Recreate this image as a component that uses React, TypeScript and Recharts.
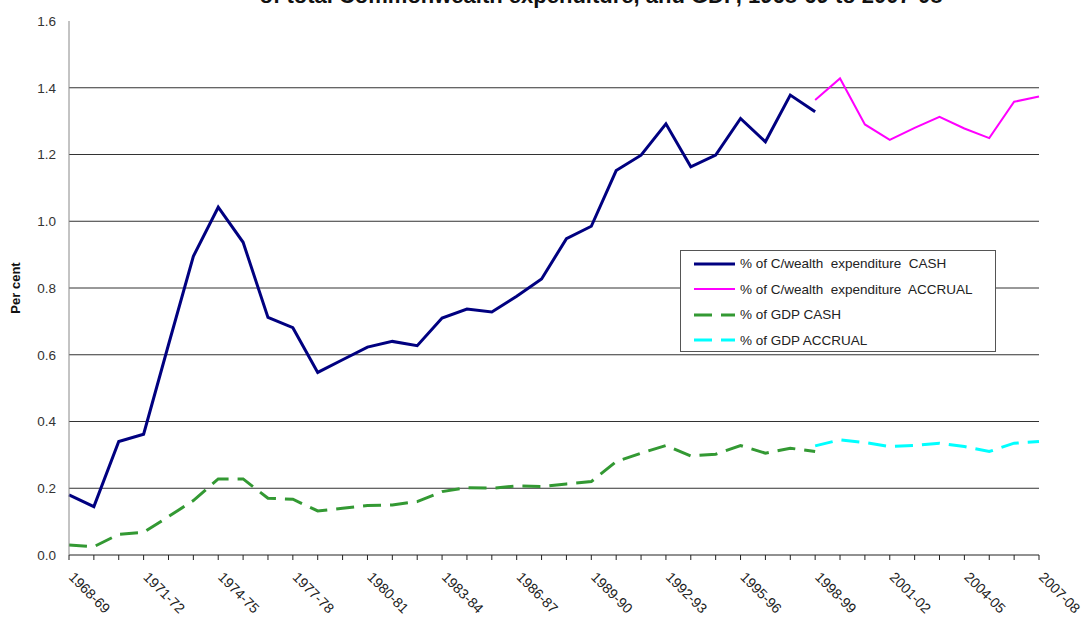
import { LineChart, Line, XAxis, YAxis, CartesianGrid } from 'recharts';

// financial years, one per point
const years = [
  '1968-69', '1969-70', '1970-71', '1971-72', '1972-73', '1973-74', '1974-75', '1975-76',
  '1976-77', '1977-78', '1978-79', '1979-80', '1980-81', '1981-82', '1982-83', '1983-84',
  '1984-85', '1985-86', '1986-87', '1987-88', '1988-89', '1989-90', '1990-91', '1991-92',
  '1992-93', '1993-94', '1994-95', '1995-96', '1996-97', '1997-98', '1998-99', '1999-00',
  '2000-01', '2001-02', '2002-03', '2003-04', '2004-05', '2005-06', '2006-07', '2007-08',
];

const expCash = [
  0.18, 0.145, 0.34, 0.362, 0.63, 0.895, 1.042, 0.937, 0.712, 0.681, 0.547, 0.585, 0.623,
  0.64, 0.627, 0.71, 0.737, 0.728, 0.775, 0.827, 0.948, 0.985, 1.152, 1.198, 1.292, 1.163,
  1.198, 1.308, 1.238, 1.378, 1.328,
];
const expAccrual = [1.363, 1.428, 1.29, 1.244, 1.28, 1.313, 1.278, 1.249, 1.358, 1.374];

const gdpCash = [
  0.03, 0.025, 0.062, 0.068, 0.115, 0.163, 0.228, 0.228, 0.17, 0.167, 0.132, 0.14, 0.148,
  0.15, 0.16, 0.19, 0.202, 0.2, 0.207, 0.205, 0.213, 0.22, 0.28, 0.305, 0.328, 0.297, 0.302,
  0.328, 0.305, 0.32, 0.31,
];
const gdpAccrual = [0.327, 0.345, 0.337, 0.325, 0.328, 0.335, 0.325, 0.31, 0.335, 0.34];

const accrualStart = 30; // accrual series begin in 1998-99

const yTicks = [0, 0.2, 0.4, 0.6, 0.8, 1.0, 1.2, 1.4, 1.6];

const data = years.map((year, i) => ({
  year,
  expCash: i < expCash.length ? expCash[i] : null,
  expAccrual: i >= accrualStart ? expAccrual[i - accrualStart] : null,
  gdpCash: i < gdpCash.length ? gdpCash[i] : null,
  gdpAccrual: i >= accrualStart ? gdpAccrual[i - accrualStart] : null,
}));

const series = [
  { key: 'expCash', name: '% of C/wealth  expenditure  CASH', color: '#000080', width: 3, dash: undefined },
  { key: 'expAccrual', name: '% of C/wealth  expenditure  ACCRUAL', color: '#ff00ff', width: 2, dash: undefined },
  { key: 'gdpCash', name: '% of GDP CASH', color: '#339933', width: 3, dash: '18 9' },
  { key: 'gdpAccrual', name: '% of GDP ACCRUAL', color: '#00ffff', width: 3, dash: '18 9' },
];

const font = 'Arial, "Liberation Sans", sans-serif';

function YearTick(props: any) {
  const { x, y, index, payload } = props;
  if (index % 3 !== 0) return null;
  return (
    <g transform={`translate(${x - 1},${y + 16}) rotate(45)`}>
      <text x={0} y={0} textAnchor="start" fill="#222" fontSize={14} fontFamily={font}>
        {payload.value}
      </text>
    </g>
  );
}

function LegendBox() {
  return (
    <div style={{
      position: 'absolute', left: 680, top: 250, width: 314, height: 100,
      border: '1px solid #555', background: '#fff', fontFamily: font,
    }}>
      {series.map((s) => (
        <div key={s.key} style={{ height: 25.5, display: 'flex', alignItems: 'center' }}>
          <svg width={59} height={10} style={{ flex: 'none' }}>
            <line x1={13} x2={54} y1={5} y2={5} stroke={s.color} strokeWidth={s.width} strokeDasharray={s.dash} />
          </svg>
          <span style={{ fontSize: 13.5, color: '#222', whiteSpace: 'pre' }}>{s.name}</span>
        </div>
      ))}
    </div>
  );
}

export default function App() {
  return (
    <div style={{ position: 'absolute', left: 0, top: 0, width: 1083, height: 619, overflow: 'hidden', background: '#fff' }}>
      <style>{'body{margin:0}'}</style>
      <div style={{
        position: 'absolute', left: 0, width: 1202, top: -15, textAlign: 'center',
        fontFamily: font, fontWeight: 'bold', fontSize: 22, lineHeight: '22px', color: '#111',
      }}>
        of total Commonwealth expenditure, and GDP, 1968-69 to 2007-08
      </div>
      <LineChart width={1083} height={619} data={data} margin={{ top: 21, right: 44, left: 0, bottom: 0 }}>
        <CartesianGrid vertical={false} stroke="#333" horizontalValues={[0.2, 0.4, 0.6, 0.8, 1.0, 1.2, 1.4]} />
        <XAxis dataKey="year" interval={0} height={64} tick={<YearTick />} tickSize={5}
          axisLine={{ stroke: '#222' }} tickLine={{ stroke: '#222' }} />
        <XAxis xAxisId="top" orientation="top" dataKey="year" height={0} tick={false} tickLine={false}
          axisLine={{ stroke: '#888' }} />
        <YAxis domain={[0, 1.6]} ticks={yTicks} width={69} tickLine={false} tickMargin={7}
          axisLine={{ stroke: '#888' }} tickFormatter={(v: number) => v.toFixed(1)}
          tick={{ fill: '#333', fontSize: 13.5, fontFamily: font }}
          label={{
            content: () => (
              <text x={20} y={288} transform="rotate(-90 20 288)" textAnchor="middle"
                fontFamily={font} fontWeight="bold" fontSize={13} fill="#111">Per cent</text>
            ),
          }} />
        <YAxis yAxisId="right" orientation="right" width={0} tick={false} tickLine={false}
          axisLine={{ stroke: '#888' }} />
        {series.map((s) => (
          <Line key={s.key} dataKey={s.key} name={s.name} stroke={s.color} strokeWidth={s.width}
            strokeDasharray={s.dash} dot={false} isAnimationActive={false} />
        ))}
      </LineChart>
      <LegendBox />
    </div>
  );
}
